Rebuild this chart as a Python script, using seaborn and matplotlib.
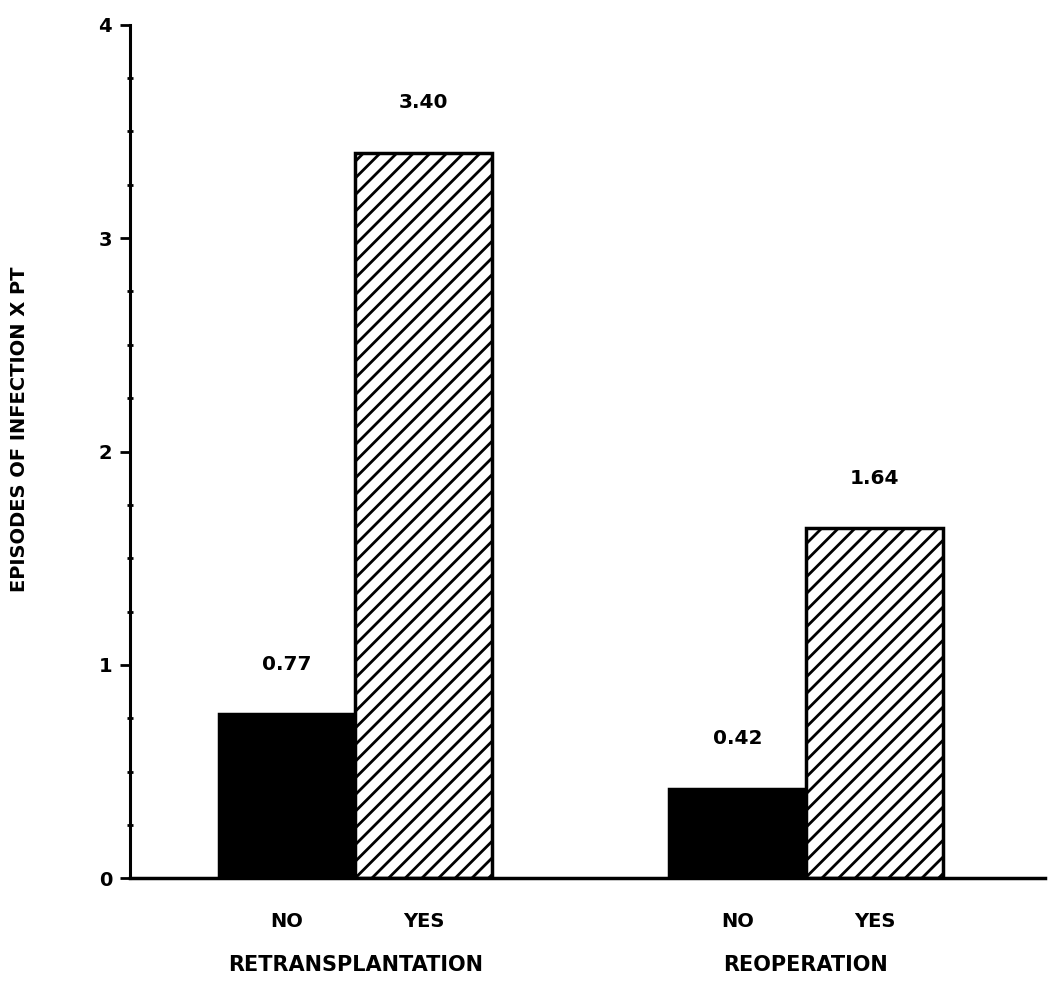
import pandas as pd
import matplotlib
matplotlib.use("Agg")
import matplotlib.pyplot as plt
import numpy as np
import seaborn as sns

# data
groups = ["RETRANSPLANTATION", "REOPERATION"]
answers = ["NO", "YES"]
values_no = [0.77, 0.42]
values_yes = [3.40, 1.64]
yticks = [0, 1, 2, 3, 4]

df = pd.DataFrame({
    "group": groups * 2,
    "answer": ["NO"] * 2 + ["YES"] * 2,
    "value": values_no + values_yes,
})

sns.set_style("ticks")
plt.rcParams["font.family"] = ["DejaVu Sans"]
plt.rcParams["text.color"] = "black"
plt.rcParams["xtick.color"] = "black"
plt.rcParams["ytick.color"] = "black"
plt.rcParams["axes.edgecolor"] = "black"
plt.rcParams["axes.labelcolor"] = "black"
plt.rcParams["hatch.linewidth"] = 2.0
plt.rcParams["hatch.color"] = "black"

fig = plt.figure(figsize=(10.5, 9.88), dpi=100)
ax = fig.add_axes([0.124, 0.111, 0.871, 0.864])

sns.barplot(data=df, x="group", y="value", hue="answer", order=groups,
            hue_order=answers, palette={"NO": "black", "YES": "white"},
            width=0.608, gap=0, edgecolor="black", linewidth=2.5,
            legend=False, ax=ax)

# hatch the YES bars, label every bar
centers = []
for bar in ax.patches:
    h = bar.get_height()
    cx = bar.get_x() + bar.get_width() / 2
    if bar.get_facecolor()[0] > 0.5:
        bar.set_hatch("//")
    centers.append(cx)
    ax.annotate(f"{h:.2f}", (cx, h), xytext=(0, 36), textcoords="offset points",
                ha="center", va="center", fontsize=14.5, fontweight="bold")

xs = sorted(centers)
ax.set_xticks(xs)
ax.set_xticklabels(answers * 2, fontsize=14, fontweight="bold")
ax.tick_params(axis="x", length=0, pad=24)

for i, g in enumerate(groups):
    ax.text((xs[2 * i] + xs[2 * i + 1]) / 2, -0.405, g, ha="center", va="center",
            fontsize=15, fontweight="bold")

ax.set_xlim(-0.5, 1.53)
ax.set_ylim(0, 4)
ax.set_yticks(yticks)
ax.set_yticklabels([str(t) for t in yticks], fontsize=14, fontweight="bold")
ax.set_yticks(np.arange(0, 4.01, 0.25), minor=True)
ax.tick_params(axis="y", which="major", length=7, width=2, direction="out", pad=6)
ax.tick_params(axis="y", which="minor", length=4, width=2, direction="inout")

ax.set_xlabel("")
ax.set_ylabel("EPISODES OF INFECTION X PT", fontsize=14, fontweight="bold")
ax.yaxis.set_label_coords(-0.111, 0.526)

for s in ["top", "right"]:
    ax.spines[s].set_visible(False)
ax.spines["left"].set_linewidth(2.2)
ax.spines["bottom"].set_linewidth(2.5)

fig.savefig("out.png", dpi=100)
